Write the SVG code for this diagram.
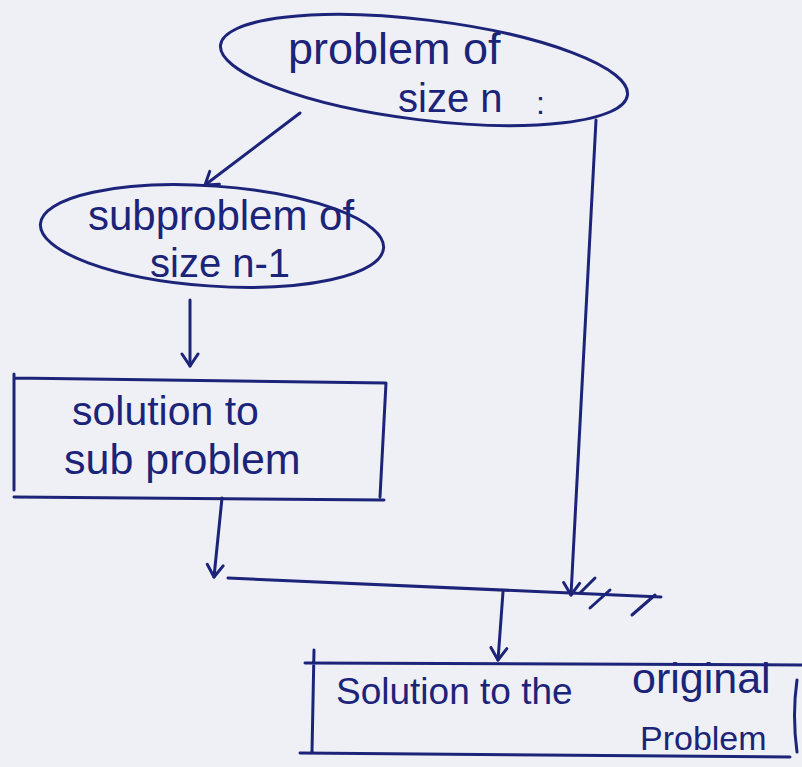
<svg xmlns="http://www.w3.org/2000/svg" width="802" height="767" viewBox="0 0 802 767">
<defs>
<style>
.ink{fill:none;stroke:#1c2479;stroke-width:3;stroke-linecap:round;stroke-linejoin:round}
.t{font-family:"Liberation Sans","DejaVu Sans",sans-serif;fill:#1c2479}
</style>
<marker id="v" viewBox="0 0 20 20" refX="18" refY="10" markerWidth="20" markerHeight="20" markerUnits="userSpaceOnUse" orient="auto">
<path d="M6 2 L18 10 L6 18" fill="none" stroke="#1c2479" stroke-width="3" stroke-linecap="round" stroke-linejoin="round"/>
</marker>
</defs>
<rect width="802" height="767" fill="#eff0f5"/>
<g id="n1">
<ellipse class="ink" cx="424" cy="70" rx="205" ry="50" transform="rotate(7 424 70)"/>
<text class="t" x="288" y="64" font-size="45">problem of</text>
<text class="t" x="398" y="112" font-size="40">size n</text>
<text class="t" x="536" y="114" font-size="32">:</text>
</g>
<g id="n2">
<ellipse class="ink" cx="212" cy="236" rx="172" ry="50" transform="rotate(4 212 236)"/>
<text class="t" x="88" y="230" font-size="42">subproblem of</text>
<text class="t" x="150" y="277" font-size="40">size n-1</text>
</g>
<g id="n3">
<path class="ink" d="M14 378 L386 383 L380 497 M14 374 L14 490 M14 497 L384 500"/>
<text class="t" x="72" y="425" font-size="41">solution to</text>
<text class="t" x="64" y="474" font-size="43">sub problem</text>
</g>
<g id="n4">
<path class="ink" d="M314 650 L312 752 M305 663 L802 665 M300 753 L790 757 M797 680 Q792 715 797 752"/>
<text class="t" x="336" y="704" font-size="37">Solution to the</text>
<text class="t" x="632" y="693" font-size="43">original</text>
<text class="t" x="640" y="750" font-size="34">Problem</text>
</g>
<g id="connectors">
<path class="ink" d="M300 113 L205 185" marker-end="url(#v)"/>
<path class="ink" d="M190 300 L190 366" marker-end="url(#v)"/>
<path class="ink" d="M222 498 L214 577" marker-end="url(#v)"/>
<path class="ink" d="M228 578 L661 597"/>
<path class="ink" d="M596 120 L571 595" marker-end="url(#v)"/>
<path class="ink" d="M503 592 L498 660" marker-end="url(#v)"/>
<path class="ink" d="M580 593 L595 578 M590 608 L610 590 M632 615 L655 595"/>
</g>
</svg>
